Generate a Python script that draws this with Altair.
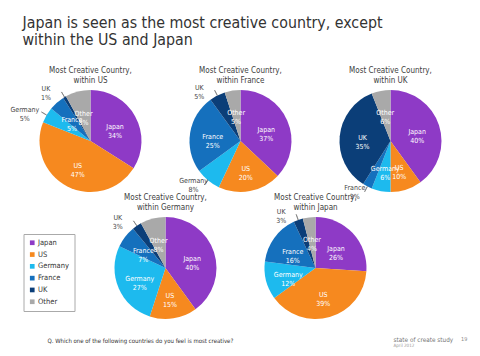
import math
import altair as alt
import pandas as pd

FONT = "DejaVu Sans Condensed, DejaVu Sans, sans-serif"

countries = ["Japan", "US", "Germany", "France", "UK", "Other"]
colors = ["#8E3AC6", "#F6891F", "#1DBAEE", "#1570BD", "#0B3E78", "#A9A9A9"]

within_us = [34, 47, 5, 5, 1, 8]
within_france = [37, 20, 8, 25, 5, 5]
within_uk = [40, 10, 6, 3, 35, 6]
within_germany = [40, 15, 27, 7, 3, 8]
within_japan = [26, 39, 12, 16, 3, 4]

# which slice labels sit outside the pie (label placement only)
outside_labels = {
    "US": ["Germany", "UK"],
    "France": ["Germany", "UK"],
    "UK": ["France"],
    "Germany": ["UK"],
    "Japan": ["UK"],
}

main_title = ["Japan is seen as the most creative country, except",
              "within the US and Japan"]
panel_title = "Most Creative Country,"
question = "Q. Which one of the following countries do you feel is most creative?"
brand = "state of create study"
brand_date = "April 2012"
page_no = "19"

R = 51          # pie radius
CELL_W = 69     # grid column width (pies overflow their column)
CELL_H = 127
theta_scale = alt.Scale(domain=[0, 100])
color_scale = alt.Scale(domain=countries, range=colors)


def frame(values, within):
    df = pd.DataFrame({"country": countries, "share": values,
                       "idx": list(range(len(countries)))})
    cum = df["share"].cumsum()
    df["mid"] = cum - df["share"] / 2
    df["label"] = df["country"] + "\n" + df["share"].astype(str) + "%"
    df["outside"] = df["country"].isin(outside_labels[within])
    return df


def frame_box(df):
    # invisible half disc spanning the cell height: gives every cell the
    # same vertical bounds so titles sit at the same place
    return alt.Chart(df).transform_filter("datum.idx == 0").mark_arc(
        radius=CELL_H / 2, theta=0, theta2=math.pi, opacity=0)


def pie(values, within):
    df = frame(values, within)
    base = alt.Chart(df)
    arcs = base.mark_arc(outerRadius=R).encode(
        theta=alt.Theta("share:Q", stack=True, scale=theta_scale),
        color=alt.Color(
            "country:N", scale=color_scale,
            legend=alt.Legend(
                title=None, orient="none", legendX=-32.5, legendY=156.5,
                symbolType="square", symbolSize=22, symbolStrokeWidth=0,
                labelFontSize=7.5, labelFont=FONT, labelColor="#333",
                strokeColor="#aaa", fillColor="white", padding=5,
                rowPadding=2.8, labelOffset=2,
            ),
        ),
        order=alt.Order("idx:Q"),
    )
    leaders = base.transform_filter("datum.outside").mark_arc(
        radius=R + 6, radius2=R, filled=False, stroke="#777", strokeWidth=0.7
    ).encode(
        theta=alt.Theta("mid:Q", scale=theta_scale),
        theta2=alt.Theta2("mid"),
    )
    inside = base.transform_filter("!datum.outside").mark_text(
        radius=R * 0.55, color="white", fontSize=7, font=FONT, lineBreak="\n"
    ).encode(theta=alt.Theta("mid:Q", scale=theta_scale), text="label:N")
    # outside labels in the upper half and in the lower half of the pie
    out_top = base.transform_filter(
        "datum.outside && (datum.mid < 25 || datum.mid > 75)"
    ).mark_text(
        radius=R + 9, dx=-14, color="#444", fontSize=7, font=FONT,
        lineBreak="\n"
    ).encode(theta=alt.Theta("mid:Q", scale=theta_scale), text="label:N")
    out_bottom = base.transform_filter(
        "datum.outside && datum.mid >= 25 && datum.mid <= 75"
    ).mark_text(
        radius=R + 10, dx=-8, dy=-7, color="#444", fontSize=7, font=FONT,
        lineBreak="\n"
    ).encode(theta=alt.Theta("mid:Q", scale=theta_scale), text="label:N")
    return alt.layer(frame_box(df), arcs, leaders, inside, out_top,
                     out_bottom).properties(
        width=CELL_W, height=CELL_H,
        title=alt.TitleParams(
            [panel_title, f"within {within}"], fontSize=8, font=FONT,
            fontWeight="normal", color="#404040", offset=-7.5, lineHeight=10,
            frame="group", anchor="middle",
        ),
    )


def spacer(title=None):
    ch = frame_box(frame(within_us, "US"))
    if title is not None:
        return ch.properties(width=CELL_W, height=CELL_H, title=title)
    return ch.properties(width=CELL_W, height=CELL_H)


p_us = pie(within_us, "US")
p_fr = pie(within_france, "France")
p_uk = pie(within_uk, "UK")
p_de = pie(within_germany, "Germany")
p_jp = pie(within_japan, "Japan")

sp_question = spacer(alt.TitleParams(
    question, orient="bottom", anchor="start", frame="group", dx=-8.5,
    offset=6, fontSize=6, font=FONT, fontWeight="normal", color="#333"))
sp_page = spacer(alt.TitleParams(
    page_no, orient="bottom", anchor="start", frame="group", dx=255,
    offset=5.5, fontSize=5.5, font=FONT, fontWeight="normal", color="#888"))
sp_brand = spacer(alt.TitleParams(
    brand, subtitle=brand_date, orient="bottom", anchor="start",
    frame="group", dx=37.5, offset=5, fontSize=6.4, font=FONT,
    fontWeight="normal", color="#777", subtitleFontSize=4.5,
    subtitleColor="#999", subtitlePadding=0.5, subtitleFont=FONT))

chart = alt.concat(
    p_us, spacer(), p_fr, spacer(), p_uk,
    sp_question, p_de, sp_page, p_jp, sp_brand,
    columns=5, bounds="flush",
    spacing={"row": 0, "column": 6},
    title=alt.TitleParams(
        main_title, anchor="start", frame="group", dx=-33.5, fontSize=15.8,
        font=FONT, fontWeight="normal", color="#333", lineHeight=17,
        offset=18.5,
    ),
).properties(
    padding={"left": 10, "top": 14.5, "right": 2, "bottom": 2},
    autosize=alt.AutoSizeParams(type="pad"),
    background="white",
).configure_view(stroke=None)

chart.save("out.html", embed_options={"renderer": "svg", "actions": False})
